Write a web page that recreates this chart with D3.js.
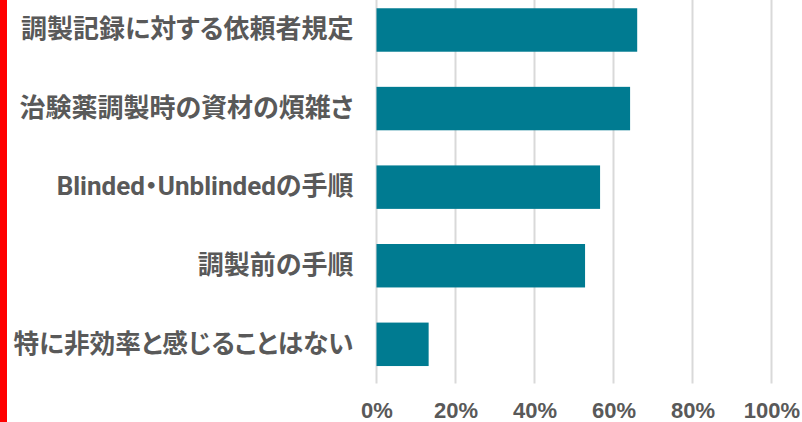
<!DOCTYPE html>
<html>
<head>
<meta charset="utf-8">
<script src="https://cdn.jsdelivr.net/npm/d3@7"></script>
<style>
  body { margin: 0; background: #fff; }
  svg { display: block; }
</style>
</head>
<body>
<div id="chart"></div>
<script>
// chart size
const width = 802;
const height = 422;
const margin = {left: 376.5, right: 30.5, top: -9.3, bottom: 38.4};
const labelMaxWidth = 340; // label column width in the picture

// data
const categories = [
  "調製記録に対する依頼者規定",
  "治験薬調製時の資材の煩雑さ",
  "Blinded・Unblindedの手順",
  "調製前の手順",
  "特に非効率と感じることはない"
];
const values = [0.660, 0.642, 0.566, 0.528, 0.132];
const tickValues = [0, 0.2, 0.4, 0.6, 0.8, 1.0];

const textColor = "#595959";
const barColor = "#007B91";
const gridColor = "#d9d9d9";

const svg = d3.select("#chart")
  .append("svg")
  .attr("width", width)
  .attr("height", height);

// red strip on the left edge
svg.append("rect")
  .attr("x", 0).attr("y", 0)
  .attr("width", 7).attr("height", height)
  .attr("fill", "#ff0000");

const xScale = d3.scaleLinear()
  .domain([0, 1])
  .range([margin.left, width - margin.right]);

const yScale = d3.scaleBand()
  .domain(categories)
  .range([margin.top, height - margin.bottom])
  .paddingInner(0.447)
  .paddingOuter(0.2235);

// gridlines
svg.append("g")
  .selectAll("line")
  .data(tickValues)
  .enter()
  .append("line")
    .attr("x1", d => xScale(d))
    .attr("x2", d => xScale(d))
    .attr("y1", 0)
    .attr("y2", height - margin.bottom)
    .attr("stroke", gridColor)
    .attr("stroke-width", 2);

// bars
svg.selectAll(".bar")
  .data(values)
  .enter()
  .append("rect")
    .attr("class", "bar")
    .attr("x", xScale(0))
    .attr("y", (d, i) => yScale(categories[i]))
    .attr("width", d => xScale(d) - xScale(0))
    .attr("height", yScale.bandwidth())
    .attr("fill", barColor);

// x axis labels
const xAxis = svg.append("g")
  .attr("transform", `translate(0,${height - 4})`)
  .call(d3.axisBottom(xScale)
    .tickValues(tickValues)
    .tickSize(0)
    .tickPadding(0)
    .tickFormat(d3.format(".0%")));
xAxis.select(".domain").remove();
xAxis.selectAll("text")
  .attr("dy", 0)
  .attr("fill", textColor)
  .attr("font-family", "Liberation Sans, Arial, sans-serif")
  .attr("font-weight", "bold")
  .attr("font-size", "22px");

// category labels
const yAxis = svg.append("g")
  .attr("transform", `translate(${margin.left - 23},0)`)
  .call(d3.axisLeft(yScale).tickSize(0).tickPadding(0));
yAxis.select(".domain").remove();
yAxis.selectAll("text")
  .attr("fill", textColor)
  .attr("font-family", "Roboto, 'Noto Sans CJK JP', sans-serif")
  .attr("font-weight", "bold")
  .attr("font-size", "26px")
  .style("font-feature-settings", "'palt'")
  .each(function() {
    // squeeze labels that run wider than the label column
    if (this.getComputedTextLength() > labelMaxWidth) {
      d3.select(this)
        .attr("textLength", labelMaxWidth)
        .attr("lengthAdjust", "spacingAndGlyphs");
    }
  });
</script>
</body>
</html>
